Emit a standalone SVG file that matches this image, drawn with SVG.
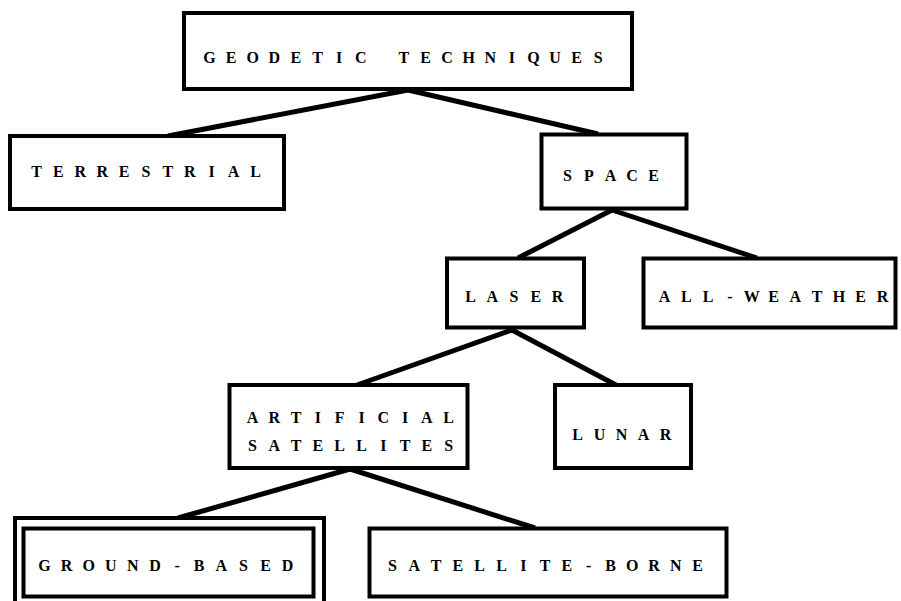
<svg xmlns="http://www.w3.org/2000/svg" width="901" height="601" viewBox="0 0 901 601">
<style>
.box{fill:#fff;stroke:#000;stroke-width:4}
.lbl{font-family:"Liberation Serif","Times New Roman",serif;font-weight:bold;font-size:16px;text-anchor:middle;fill:#000}
.conn line{stroke:#000;stroke-width:5;stroke-linecap:butt}
</style>
<rect width="901" height="601" fill="#fff"/>
<g class="conn" id="connectors">
<line x1="408" y1="90" x2="168" y2="136"/>
<line x1="408" y1="90" x2="598" y2="134"/>
<line x1="612" y1="210" x2="518" y2="258"/>
<line x1="612" y1="210" x2="757" y2="258"/>
<line x1="512" y1="330" x2="357" y2="385"/>
<line x1="512" y1="330" x2="616" y2="385"/>
<line x1="350" y1="469" x2="178" y2="518"/>
<line x1="350" y1="469" x2="535" y2="528"/>
</g>
<g id="geodetic">
<rect class="box" x="184" y="13" width="448" height="76"/>
<text class="lbl" x="209.5 231.1 252.7 274.3 295.9 317.5 339.1 360.7 382.3 403.9 425.5 447.1 468.7 490.3 511.9 533.5 555.1 576.7 598.3" y="63">GEODETIC TECHNIQUES</text>
</g>
<g id="terrestrial">
<rect class="box" x="10" y="136" width="274" height="73"/>
<text class="lbl" x="36.5 58.4 80.3 102.2 124.1 146 167.9 189.8 211.7 233.6 255.5" y="177">TERRESTRIAL</text>
</g>
<g id="space">
<rect class="box" x="541.5" y="134.5" width="145" height="74"/>
<text class="lbl" x="567.5 589 610.5 632 653.5" y="181">SPACE</text>
</g>
<g id="laser">
<rect class="box" x="447" y="258.5" width="137" height="69"/>
<text class="lbl" x="470.5 492.3 514 535.8 557.5" y="302">LASER</text>
</g>
<g id="allweather">
<rect class="box" x="643.5" y="258.5" width="252" height="69"/>
<text class="lbl" x="664.5 686.3 708.1 729.9 751.7 773.5 795.3 817.1 838.9 860.7 882.5" y="302">ALL-WEATHER</text>
</g>
<g id="artificial">
<rect class="box" x="229.5" y="385" width="238" height="83"/>
<text class="lbl" x="252.5 274.3 296.1 317.9 339.7 361.5 383.3 405.1 426.9 448.7" y="423">ARTIFICIAL</text>
<text class="lbl" x="252.5 274.3 296.1 317.9 339.7 361.5 383.3 405.1 426.9 448.7" y="451">SATELLITES</text>
</g>
<g id="lunar">
<rect class="box" x="555" y="385" width="136" height="83"/>
<text class="lbl" x="577.5 599.5 621.5 643.5 665.5" y="440">LUNAR</text>
</g>
<g id="groundbased">
<rect class="box" x="15" y="518" width="309" height="100"/>
<rect class="box" x="23.5" y="528.5" width="290" height="68"/>
<text class="lbl" x="44.5 66.6 88.7 110.8 132.9 155 177.1 199.2 221.3 243.4 265.5 287.6" y="571">GROUND-BASED</text>
</g>
<g id="satelliteborne">
<rect class="box" x="369.5" y="528.5" width="357" height="68"/>
<text class="lbl" x="392.5 414.3 436.1 457.9 479.7 501.5 523.3 545.1 566.9 588.7 610.5 632.3 654.1 675.9 697.7" y="571">SATELLITE-BORNE</text>
</g>
</svg>
